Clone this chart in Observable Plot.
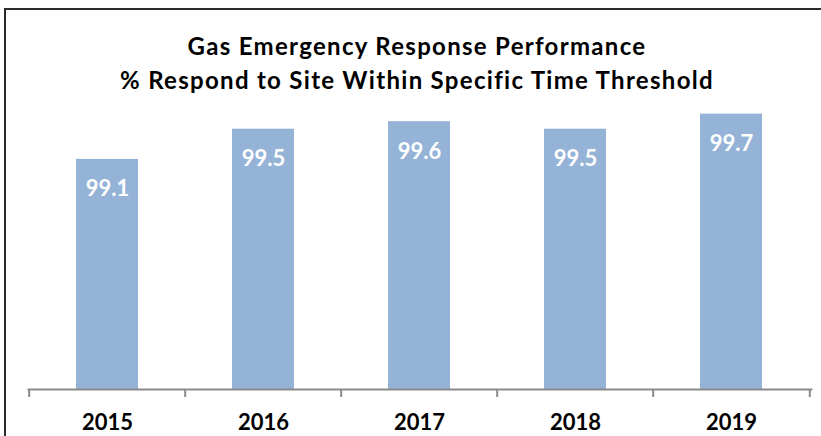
<!DOCTYPE html>
<html>
<head>
<meta charset="utf-8">
<script src="https://cdn.jsdelivr.net/npm/d3@7"></script>
<script src="https://cdn.jsdelivr.net/npm/@observablehq/plot@0.6"></script>
<style>
  html, body { margin: 0; padding: 0; background: #fff; }
  #wrap { position: relative; width: 821px; height: 436px; overflow: hidden; font-family: Lato, sans-serif; }
  #frame { position: absolute; left: 4px; top: 8px; width: 840px; height: 460px; border: 2px solid #2b2b2b; box-sizing: border-box; }
  #title { position: absolute; left: 0; top: 29px; width: 834px; text-align: center; font-weight: 700; font-size: 24px; line-height: 34px; letter-spacing: 1.3px; color: #000; }
  #chart { position: absolute; left: 0; top: 0; }
</style>
</head>
<body>
<div id="wrap">
  <div id="frame"></div>
  <div id="chart"></div>
  <div id="title"></div>
</div>
<script>
const titleLines = ["Gas Emergency Response Performance", "% Respond to Site Within Specific Time Threshold"];
const years = ["2015", "2016", "2017", "2018", "2019"];
const values = [99.1, 99.5, 99.6, 99.5, 99.7];

const data = years.map((y, i) => ({year: y, value: values[i]}));

const titleEl = document.getElementById("title");
titleLines.forEach((t, i) => {
  if (i) titleEl.appendChild(document.createElement("br"));
  titleEl.appendChild(document.createTextNode(t));
});

const W = 821, H = 436, mL = 28, mR = 10, mT = 91, mB = 47;
const step = (W - mL - mR) / years.length;
const yMin = 96.05, yMax = 100;

const chart = Plot.plot({
  width: W,
  height: H,
  marginLeft: mL,
  marginRight: mR,
  marginTop: mT,
  marginBottom: mB,
  style: {fontFamily: "Lato, sans-serif", background: "transparent", overflow: "visible"},
  x: {domain: years, paddingInner: 0.6, paddingOuter: 0.3, axis: null},
  y: {domain: [yMin, yMax], axis: null},
  marks: [
    Plot.barY(data, {x: "year", y1: yMin, y2: "value", fill: "#95B3D7"}),
    Plot.text(data, {x: "year", y: "value", text: d => d.value.toFixed(1), dy: 30, fill: "#ffffff", fontSize: 22, fontWeight: "bold"}),
    Plot.frame({anchor: "bottom", stroke: "#8a8a8a", strokeWidth: 2}),
    Plot.axisX({tickSize: 8, tickFormat: () => "", dx: -step / 2, stroke: "#8a8a8a", strokeWidth: 2, label: null}),
    Plot.axisX([years[years.length - 1]], {tickSize: 8, tickFormat: () => "", dx: step / 2, stroke: "#8a8a8a", strokeWidth: 2, label: null}),
    Plot.axisX({tickSize: 0, tickPadding: 25, fontSize: 22, fontWeight: "bold", fill: "#000", label: null})
  ]
});
document.getElementById("chart").appendChild(chart);
</script>
</body>
</html>
